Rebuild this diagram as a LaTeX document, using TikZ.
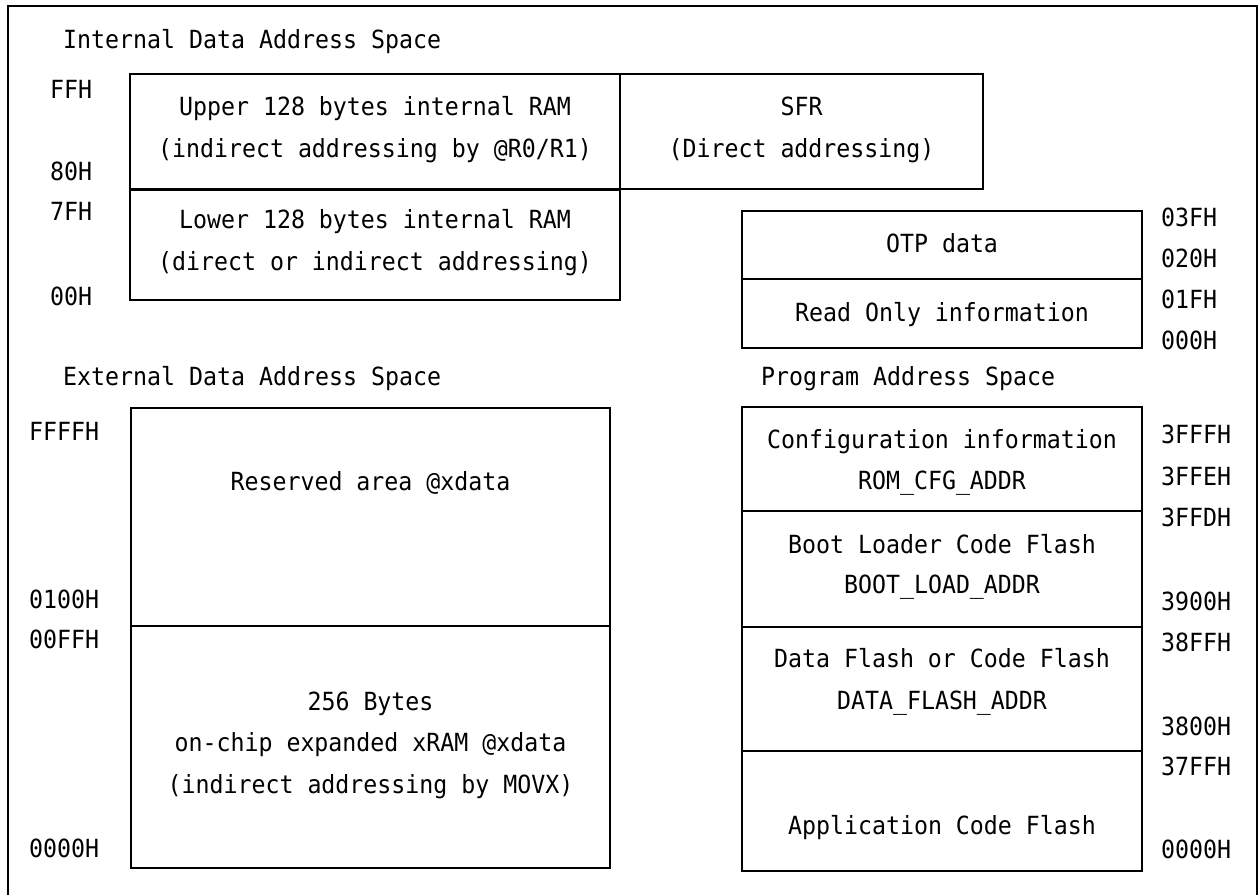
\documentclass[tikz,border=0pt]{standalone}
\usepackage{fontspec}
\newfontfamily\memfont{DejaVu Sans Mono}[FakeStretch=0.93]
\begin{document}
\begin{tikzpicture}[x=1pt,y=-1pt,
  font=\memfont\fontsize{25}{25}\selectfont,
  box/.style={draw, line width=1.5pt, inner sep=0pt},
  lbl/.style={anchor=base west, inner sep=0pt},
  txt/.style={anchor=base, inner sep=0pt}]
\useasboundingbox (0,0) rectangle (1260,894);
% outer frame
\coordinate (f1) at (8,900);
\coordinate (f2) at (8,6);
\coordinate (f3) at (1257,6);
\coordinate (f4) at (1257,900);
\draw[line width=2pt] (f1) -- (f2) -- (f3) -- (f4);

% internal data space
\node[lbl] (tint) at (63,48) {Internal Data Address Space};
\node[box, minimum width=490pt, minimum height=115pt] (upper) at (375,131.5) {};
\node[box, minimum width=363pt, minimum height=115pt] (sfr) at (801.5,131.5) {};
\node[box, minimum width=490pt, minimum height=111pt] (lower) at (375,244.5) {};
\draw[line width=2.2pt] (upper.south west) -- (upper.south east);
\node[txt] (u1) at (375,115) {Upper 128 bytes internal RAM};
\node[txt] (u2) at (375,157) {(indirect addressing by @R0/R1)};
\node[txt] (s1) at (801.5,115) {SFR};
\node[txt] (s2) at (801.5,157) {(Direct addressing)};
\node[txt] (l1) at (375,228) {Lower 128 bytes internal RAM};
\node[txt] (l2) at (375,270) {(direct or indirect addressing)};
\node[lbl] (aFF) at (50,98) {FFH};
\node[lbl] (a80) at (50,180) {80H};
\node[lbl] (a7F) at (50,220) {7FH};
\node[lbl] (a00) at (50,305) {00H};

% OTP
\node[box, minimum width=400pt, minimum height=68pt] (otp) at (942,245) {};
\node[box, minimum width=400pt, minimum height=69pt] (ro) at (942,313.5) {};
\node[txt] (o1) at (942,252) {OTP data};
\node[txt] (r1) at (942,321) {Read Only information};
\node[lbl] (b03F) at (1161,226) {03FH};
\node[lbl] (b020) at (1161,267) {020H};
\node[lbl] (b01F) at (1161,308) {01FH};
\node[lbl] (b000) at (1161,349) {000H};

% external data space
\node[lbl] (text) at (63,385) {External Data Address Space};
\node[box, minimum width=479pt, minimum height=218pt] (resv) at (370.5,517) {};
\node[box, minimum width=479pt, minimum height=242pt] (xram) at (370.5,747) {};
\node[txt] (x0) at (370.5,490) {Reserved area @xdata};
\node[txt] (x1) at (370.5,710) {256 Bytes};
\node[txt] (x2) at (370.5,751) {on-chip expanded xRAM @xdata};
\node[txt] (x3) at (370.5,793) {(indirect addressing by MOVX)};
\node[lbl] (cFFFF) at (29,440) {FFFFH};
\node[lbl] (c0100) at (29,608) {0100H};
\node[lbl] (c00FF) at (29,648) {00FFH};
\node[lbl] (c0000) at (29,857) {0000H};

% program space
\node[lbl] (tprog) at (761,385) {Program Address Space};
\node[box, minimum width=400pt, minimum height=104pt] (cfg) at (942,459) {};
\node[box, minimum width=400pt, minimum height=116pt] (boot) at (942,569) {};
\node[box, minimum width=400pt, minimum height=124pt] (dfl) at (942,689) {};
\node[box, minimum width=400pt, minimum height=120pt] (app) at (942,811) {};
\node[txt] (p1) at (942,448) {Configuration information};
\node[txt] (p2) at (942,489) {ROM\_CFG\_ADDR};
\node[txt] (p3) at (942,553) {Boot Loader Code Flash};
\node[txt] (p4) at (942,593) {BOOT\_LOAD\_ADDR};
\node[txt] (p5) at (942,667) {Data Flash or Code Flash};
\node[txt] (p6) at (942,709) {DATA\_FLASH\_ADDR};
\node[txt] (p7) at (942,834) {Application Code Flash};
\node[lbl] (d3FFF) at (1161,443) {3FFFH};
\node[lbl] (d3FFE) at (1161,485) {3FFEH};
\node[lbl] (d3FFD) at (1161,526) {3FFDH};
\node[lbl] (d3900) at (1161,610) {3900H};
\node[lbl] (d38FF) at (1161,651) {38FFH};
\node[lbl] (d3800) at (1161,735) {3800H};
\node[lbl] (d37FF) at (1161,775) {37FFH};
\node[lbl] (d0000) at (1161,858) {0000H};
\end{tikzpicture}
\end{document}
